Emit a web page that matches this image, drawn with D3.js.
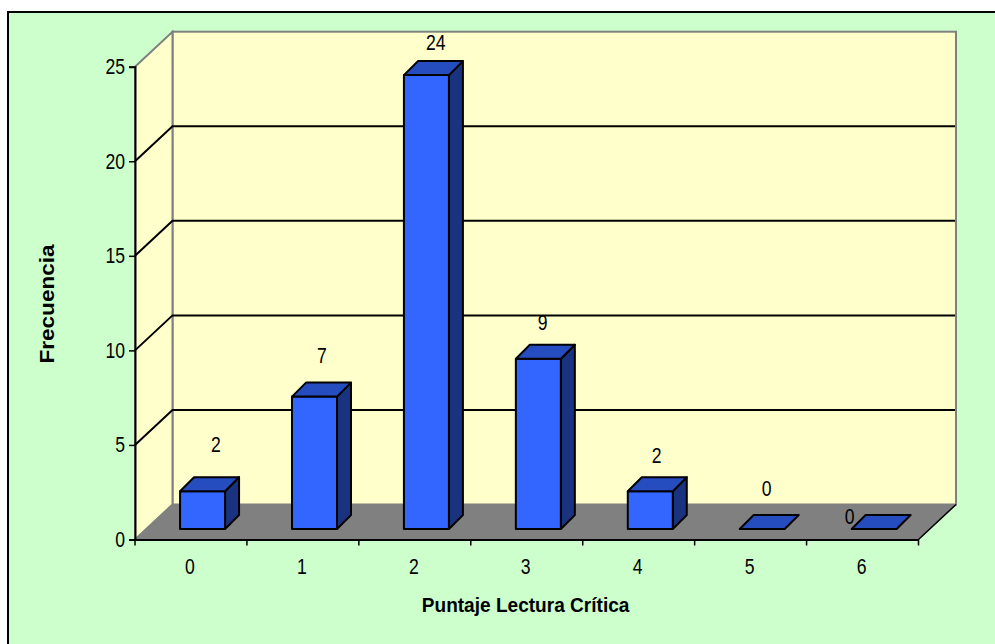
<!DOCTYPE html>
<html>
<head>
<meta charset="utf-8">
<script src="https://cdn.jsdelivr.net/npm/d3@7/dist/d3.min.js"></script>
<style>
  html, body { margin: 0; padding: 0; background: #fff; }
  svg { display: block; }
  text { font-family: "Liberation Sans", Arial, sans-serif; fill: #000; }
</style>
</head>
<body>
<svg id="chart" width="995" height="644"></svg>
<script>
const categories = ["0", "1", "2", "3", "4", "5", "6"];
const frequencies = [2, 7, 24, 9, 2, 0, 0];
const yTicks = [0, 5, 10, 15, 20, 25];
const xTitle = "Puntaje Lectura Crítica";
const yTitle = "Frecuencia";

const svg = d3.select("#chart");

// Front plane of the 3D box, plus the wall and bar depth offsets
const frontLeft = 135, frontRight = 918.5, frontBottom = 539.5, frontTop = 66.7;
const wallDX = 37.5, wallDY = -35;
const barDX = 14, barDY = -14;
const barInsetY = 10.5;
const labelFont = 22, digitSqueeze = 0.8;

const x = d3.scaleBand().domain(categories).range([frontLeft, frontRight]);
const y = d3.scaleLinear().domain([0, 25]).range([frontBottom, frontTop]);
const poly = pts => pts.map(p => p.join(",")).join(" ");

// Narrows or widens text along its run, keeping its height
function fitWidth(sel, factor) {
  sel.each(function () {
    const len = this.getComputedTextLength();
    d3.select(this).attr("textLength", len * factor).attr("lengthAdjust", "spacingAndGlyphs");
  });
}

// Chart area: open on the right and bottom, where it runs off the page
svg.append("rect").attr("x", 8).attr("y", 12).attr("width", 987).attr("height", 632).attr("fill", "#ccffcc");
svg.append("path").attr("d", "M8,644V12H995").attr("fill", "none").attr("stroke", "#000").attr("stroke-width", 2);

// Back wall
svg.append("rect")
  .attr("x", frontLeft + wallDX).attr("y", y(25) + wallDY)
  .attr("width", frontRight - frontLeft).attr("height", frontBottom - y(25))
  .attr("fill", "#ffffcc").attr("stroke", "#808080").attr("stroke-width", 2);

// Side wall
svg.append("polygon")
  .attr("points", poly([
    [frontLeft, y(25)], [frontLeft + wallDX, y(25) + wallDY],
    [frontLeft + wallDX, frontBottom + wallDY], [frontLeft, frontBottom]]))
  .attr("fill", "#ffffcc").attr("stroke", "#808080").attr("stroke-width", 2);

// Floor
svg.append("polygon")
  .attr("points", poly([
    [frontLeft, frontBottom], [frontLeft + wallDX, frontBottom + wallDY],
    [frontRight + wallDX, frontBottom + wallDY], [frontRight, frontBottom]]))
  .attr("fill", "#808080").attr("stroke", "#808080").attr("stroke-width", 1);

// Gridlines running along the side wall and across the back wall
const grid = svg.append("g").attr("fill", "none").attr("stroke", "#000").attr("stroke-width", 2);
yTicks.filter(t => t > 0 && t < 25).forEach(t => {
  grid.append("polyline").attr("points", poly([
    [frontLeft, y(t)], [frontLeft + wallDX, y(t) + wallDY], [frontRight + wallDX - 1, y(t) + wallDY]]));
});

// Outer floor edge on the right
svg.append("line")
  .attr("x1", frontRight).attr("y1", frontBottom)
  .attr("x2", frontRight + wallDX).attr("y2", frontBottom + wallDY)
  .attr("stroke", "#000").attr("stroke-width", 1.5);

// Axes
const yAxis = d3.axisLeft(y).tickValues(yTicks).tickSize(6).tickPadding(4);
const yG = svg.append("g").attr("transform", `translate(${frontLeft},0)`).call(yAxis);
const xAxis = d3.axisBottom(x).tickSize(0).tickPadding(18.6);
const xG = svg.append("g").attr("transform", `translate(0,${frontBottom})`).call(xAxis);
[yG, xG].forEach(g => {
  g.selectAll("text")
    .style("font-family", '"Liberation Sans", Arial, sans-serif')
    .style("font-size", labelFont + "px").attr("fill", "#000")
    .call(fitWidth, digitSqueeze);
  g.selectAll("path.domain").attr("stroke", "#000").attr("stroke-width", 2);
  g.selectAll("line").attr("stroke", "#000").attr("stroke-width", 1.5);
});
yG.selectAll("text").attr("dy", "0.32em");
xG.selectAll("text").attr("dx", -1);

// Tick marks between categories on the horizontal axis
svg.append("g").selectAll("line")
  .data(d3.range(categories.length + 1))
  .join("line")
  .attr("x1", i => frontLeft + i * x.step()).attr("x2", i => frontLeft + i * x.step())
  .attr("y1", frontBottom).attr("y2", frontBottom + 6)
  .attr("stroke", "#000").attr("stroke-width", 1.5);

// Bars, each with front, top and side faces
const barWidth = 45, barShift = 11.6;
const bars = svg.append("g").attr("stroke", "#000").attr("stroke-width", 2).attr("stroke-linejoin", "round");
frequencies.forEach((v, i) => {
  const left = x(categories[i]) + x.step() / 2 - barWidth / 2 + barShift;
  const right = left + barWidth;
  const base = frontBottom - barInsetY;
  const top = base - (frontBottom - y(v));
  if (v > 0) {
    bars.append("polygon").attr("fill", "#1a3380").attr("points", poly([
      [right, top], [right + barDX, top + barDY], [right + barDX, base + barDY], [right, base]]));
    bars.append("rect").attr("fill", "#3366ff")
      .attr("x", left).attr("y", top).attr("width", barWidth).attr("height", base - top);
  }
  bars.append("polygon").attr("fill", "#264dbf").attr("points", poly([
    [left, top], [left + barDX, top + barDY], [right + barDX, top + barDY], [right, top]]));
});

// Value labels, nudged individually away from the bars they annotate
const labelDX = [25, 19, 21, 16, 18, 16, -13];
const labelDY = [-39, -33.6, -25.5, -29, -28.5, -33.5, -5];
svg.append("g").selectAll("text")
  .data(frequencies)
  .join("text")
  .attr("text-anchor", "middle").attr("font-size", labelFont)
  .attr("x", (d, i) => x(categories[i]) + x.step() / 2 + labelDX[i])
  .attr("y", (d, i) => frontBottom - barInsetY - (frontBottom - y(d)) + labelDY[i])
  .text(d => d)
  .call(fitWidth, digitSqueeze);

// Axis titles
svg.append("text").attr("x", 525.6).attr("y", 611.5).attr("text-anchor", "middle")
  .attr("font-size", 20.5).attr("font-weight", "bold").text(xTitle)
  .call(fitWidth, 0.93);
svg.append("text").attr("transform", "translate(54,304) rotate(-90)").attr("text-anchor", "middle")
  .attr("font-size", 20.5).attr("font-weight", "bold").text(yTitle)
  .call(fitWidth, 1.1);
</script>
</body>
</html>
